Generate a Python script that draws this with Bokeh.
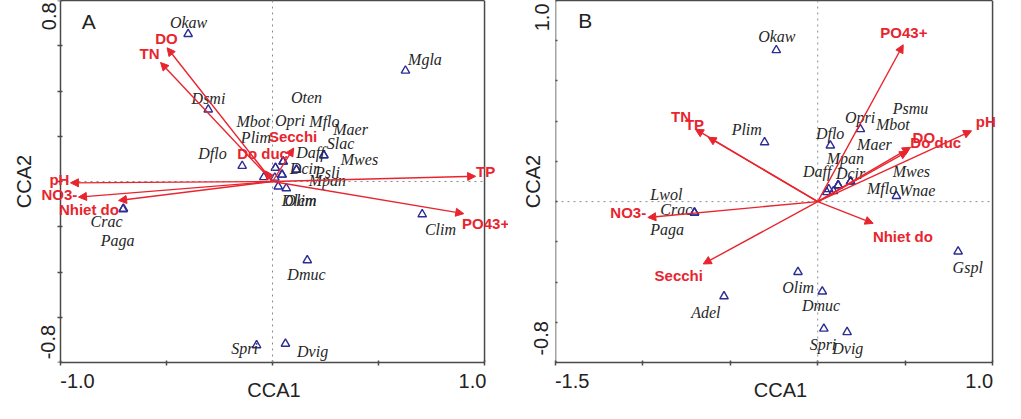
from bokeh.plotting import figure
from bokeh.models import (ColumnDataSource, Range1d, FixedTicker, Arrow, NormalHead,
                          LabelSet, Label, Span, LinearAxis)
from bokeh.core.properties import value
from bokeh.layouts import row
from bokeh.embed import file_html
from bokeh.resources import INLINE

# ---------------- Panel A data ----------------
species_A = ["Okaw", "Dsmi", "Dflo", "Mgla", "Oten", "Mbot", "Opri", "Mflo", "Maer", "Plim",
             "Slac", "Daff", "Mwes", "Dcir", "Psli", "Mpan", "Olim", "Dlem", "Clim", "Dmuc",
             "Spri", "Dvig", "Crac", "Paga"]
sp_x_A = [-0.398, -0.303, -0.143, 0.627, 0.014, 0.014, 0.050, 0.045, 0.050, -0.041,
          0.242, 0.242, 0.113, 0.113, 0.011, 0.045, 0.027, 0.065, 0.706, 0.164,
          -0.075, 0.061, -0.705, -0.703]
sp_y_A = [0.652, 0.318, 0.069, 0.490, 0.060, 0.060, 0.088, 0.030, 0.088, 0.019,
          0.116, 0.116, 0.052, 0.052, 0.017, 0.030, -0.022, -0.030, -0.145, -0.348,
          -0.724, -0.717, -0.123, -0.120]
sp_lab_x_A = [-0.396, -0.302, -0.283, 0.719, 0.160, -0.090, 0.083, 0.245, 0.368, -0.078,
              0.321, 0.179, 0.410, 0.151, 0.259, 0.259, 0.132, 0.125, 0.792, 0.160,
              -0.132, 0.189, -0.783, -0.731]
sp_lab_y_A = [0.703, 0.367, 0.125, 0.540, 0.371, 0.264, 0.270, 0.264, 0.232, 0.195,
              0.167, 0.128, 0.098, 0.059, 0.040, 0.006, -0.086, -0.086, -0.210, -0.410,
              -0.737, -0.753, -0.177, -0.259]

env_A = ["DO", "TN", "Secchi", "Do duc", "TP", "PO43+", "pH", "NO3-", "Nhiet do"]
env_x_A = [-0.497, -0.528, 0.100, -0.033, 0.958, 0.902, -0.953, -0.915, -0.726]
env_y_A = [0.591, 0.526, 0.148, 0.047, 0.023, -0.142, -0.006, -0.069, -0.084]
env_lab_x_A = [-0.500, -0.580, 0.097, -0.047, 1.005, 1.005, -1.005, -1.005, -0.866]
env_lab_y_A = [0.634, 0.566, 0.198, 0.124, 0.044, -0.185, 0.009, -0.056, -0.124]

x_range_A = (-1.0, 1.0)
y_range_A = (-0.8, 0.8)
xtick_marks_A = [-1.0, -0.5, 0.0, 0.5, 1.0]
ytick_marks_A = [-0.8, -0.6, -0.4, -0.2, 0.0, 0.2, 0.4, 0.6, 0.8]
xtick_labels_A = {-0.92: "-1.0", 0.943: "1.0"}
ytick_labels_A = {-0.71: "-0.8", 0.73: "0.8"}
letter_A = ("A", -0.90, 0.709)

# ---------------- Panel B data ----------------
species_B = ["Okaw", "Plim", "Opri", "Psmu", "Mbot", "Dflo", "Maer", "Mpan", "Daff", "Dcir",
             "Mwes", "Mflo", "Wnae", "Gspl", "Olim", "Dmuc", "Spri", "Dvig", "Lwol", "Crac",
             "Paga", "Adel"]
sp_x_B = [-0.237, -0.304, 0.244, 0.117, 0.117, 0.072, 0.117, 0.090, 0.063, 0.188,
          0.188, 0.052, 0.450, 0.803, -0.113, 0.026, 0.035, 0.168, -0.705, -0.705,
          -0.705, -0.536]
sp_y_B = [0.753, 0.295, 0.360, 0.081, 0.081, 0.279, 0.081, 0.052, 0.062, 0.100,
          0.100, 0.047, 0.028, -0.248, -0.350, -0.447, -0.632, -0.649, -0.055, -0.055,
          -0.055, -0.471]
sp_lab_x_B = [-0.234, -0.406, 0.242, 0.531, 0.430, 0.071, 0.324, 0.158, -0.003, 0.188,
              0.536, 0.368, 0.569, 0.858, -0.112, 0.019, 0.030, 0.172, -0.866, -0.809,
              -0.861, -0.640]
sp_lab_y_B = [0.820, 0.360, 0.420, 0.465, 0.381, 0.339, 0.284, 0.215, 0.150, 0.142,
              0.150, 0.065, 0.053, -0.329, -0.426, -0.516, -0.710, -0.729, 0.037, -0.039,
              -0.140, -0.549]

env_B = ["TN", "TP", "PO43+", "DO", "Do duc", "pH", "Nhiet do", "NO3-", "Secchi"]
env_x_B = [-0.700, -0.627, 0.489, 0.531, 0.515, 0.880, 0.317, -0.972, -0.655]
env_y_B = [0.360, 0.320, 0.780, 0.270, 0.250, 0.352, -0.108, -0.079, -0.310]
env_lab_x_B = [-0.782, -0.705, 0.493, 0.607, 0.675, 0.961, 0.487, -1.084, -0.795]
env_lab_y_B = [0.425, 0.385, 0.840, 0.320, 0.295, 0.400, -0.172, -0.055, -0.366]

x_range_B = (-1.5, 1.0)
y_range_B = (-0.8, 1.0)
xtick_marks_B = [-1.5, -1.0, -0.5, 0.0, 0.5, 1.0]
ytick_marks_B = [-0.8, -0.6, -0.4, -0.2, 0.0, 0.2, 0.4, 0.6, 0.8, 1.0]
xtick_labels_B = {-1.405: "-1.5", 0.924: "1.0"}
ytick_labels_B = {-0.68: "-0.8", 0.916: "1.0"}
letter_B = ("B", -1.37, 0.899)

RED = "#e8252e"
BLUE = "#2c2c94"
AXC = "#4a4a4a"
TXT = "#222222"


def style_text(ax):
    ax.major_label_text_font = "Liberation Sans"
    ax.major_label_text_font_size = "20px"
    ax.major_label_text_color = TXT
    ax.axis_label_text_font = "Liberation Sans"
    ax.axis_label_text_font_size = "20px"
    ax.axis_label_text_font_style = "normal"
    ax.axis_label_text_color = TXT


def make_panel(width, border_left, ext, xr, yr, xmarks, ymarks, xlabels, ylabels, letter,
               ylab_standoffs, sp, sx, sy, slx, sly, en, ex, ey, elx, ely):
    # the frame is a little wider than the axes so that labels may overhang the box
    p = figure(width=width, height=403,
               x_range=Range1d(xr[0] - ext[0], xr[1] + ext[1]), y_range=Range1d(*yr),
               output_backend="svg", toolbar_location=None,
               min_border_left=border_left, min_border_right=0,
               min_border_top=0, min_border_bottom=0)
    p.grid.visible = False
    p.outline_line_color = None
    p.background_fill_color = "white"

    # bottom axis (line limited to the data box)
    xa = p.xaxis[0]
    xa.bounds = xr
    xa.axis_label = "CCA1"
    xa.ticker = FixedTicker(ticks=list(xlabels.keys()), minor_ticks=xmarks)
    xa.major_label_overrides = xlabels
    xa.major_tick_in = 0
    xa.major_tick_out = 0
    xa.minor_tick_in = 2
    xa.minor_tick_out = 3
    xa.minor_tick_line_color = AXC
    xa.minor_tick_line_width = 1.5
    xa.axis_line_color = AXC
    xa.axis_line_width = 1.5
    xa.major_label_standoff = 8
    xa.axis_label_standoff = -12
    style_text(xa)

    # left: one axis for labels/title, one fixed at the box edge for line and ticks
    ya = p.yaxis[0]
    ya.axis_label = "CCA2"
    ya.ticker = FixedTicker(ticks=list(ylabels.keys()), minor_ticks=[])
    ya.major_label_overrides = ylabels
    ya.axis_line_color = None
    ya.major_tick_line_color = None
    ya.minor_tick_line_color = None
    ya.major_tick_in = 0
    ya.major_tick_out = 0
    ya.major_label_orientation = "vertical"
    ya.major_label_standoff = ylab_standoffs[0]
    ya.axis_label_standoff = ylab_standoffs[1]
    style_text(ya)

    yline = LinearAxis(fixed_location=xr[0], ticker=FixedTicker(ticks=[], minor_ticks=ymarks),
                       major_tick_in=0, major_tick_out=0, minor_tick_in=2, minor_tick_out=3,
                       minor_tick_line_color=AXC, minor_tick_line_width=1.5,
                       axis_line_color=AXC, axis_line_width=1.5, major_label_standoff=0)
    p.add_layout(yline, "left")

    top = LinearAxis(bounds=xr, ticker=FixedTicker(ticks=[], minor_ticks=[]),
                     major_tick_in=0, major_tick_out=0, minor_tick_in=0, minor_tick_out=0,
                     axis_line_color=AXC, axis_line_width=1.5, major_label_standoff=0)
    p.add_layout(top, "above")
    p.add_layout(Span(location=xr[1], dimension="height", line_color=AXC, line_width=1.5))

    # dotted zero lines
    p.add_layout(Span(location=0, dimension="height", line_color="#8c8c8c",
                      line_dash="dotted", line_width=1))
    p.segment(x0=[xr[0]], y0=[0.0], x1=[xr[1]], y1=[0.0], line_color="#8c8c8c",
              line_dash="dotted", line_width=1)

    src_sp = ColumnDataSource(dict(x=sx, y=sy, lx=slx, ly=sly, name=sp))
    p.scatter("x", "y", source=src_sp, marker="triangle", size=8.5, fill_color=None,
              line_color=BLUE, line_width=1.4)
    p.add_layout(LabelSet(x="lx", y="ly", text="name", source=src_sp,
                          text_align="center", text_baseline="middle",
                          text_font=value("Liberation Serif"), text_font_style="italic",
                          text_font_size="16px", text_color="#262626"))

    n = len(en)
    src_env = ColumnDataSource(dict(x0=[0.0] * n, y0=[0.0] * n, x1=ex, y1=ey,
                                    lx=elx, ly=ely, name=en))
    p.add_layout(Arrow(end=NormalHead(size=8, fill_color=RED, line_color=RED, line_width=1),
                       x_start="x0", y_start="y0", x_end="x1", y_end="y1",
                       source=src_env, line_color=RED, line_width=1.4))
    p.add_layout(LabelSet(x="lx", y="ly", text="name", source=src_env,
                          text_align="center", text_baseline="middle",
                          text_font=value("Liberation Sans"), text_font_style="bold",
                          text_font_size="15px", text_color=RED))

    p.add_layout(Label(x=letter[1], y=letter[2], text=letter[0], text_align="left",
                       text_baseline="middle", text_font="Liberation Sans",
                       text_font_size="21px", text_color=TXT))
    return p


pA = make_panel(508, 39, (0.099, 0.113), x_range_A, y_range_A, xtick_marks_A, ytick_marks_A,
                xtick_labels_A, ytick_labels_A, letter_A, (-16, 4),
                species_A, sp_x_A, sp_y_A, sp_lab_x_A, sp_lab_y_A,
                env_A, env_x_A, env_y_A, env_lab_x_A, env_lab_y_A)
pB = make_panel(497, 47, (0.0, 0.074), x_range_B, y_range_B, xtick_marks_B, ytick_marks_B,
                xtick_labels_B, ytick_labels_B, letter_B, (7, -12),
                species_B, sp_x_B, sp_y_B, sp_lab_x_B, sp_lab_y_B,
                env_B, env_x_B, env_y_B, env_lab_x_B, env_lab_y_B)

layout = row(pA, pB)
open("out.html", "w").write(file_html(layout, INLINE))
